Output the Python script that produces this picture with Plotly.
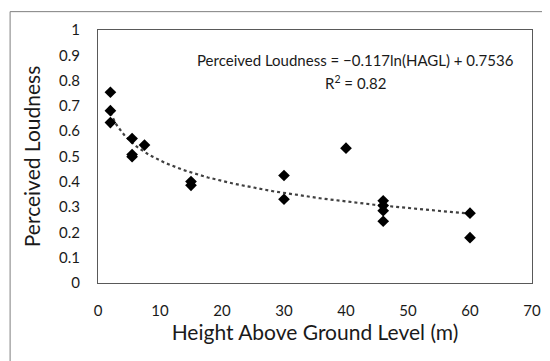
import numpy as np
import plotly.graph_objects as go

hagl = [2, 2, 2, 5.5, 5.5, 5.5, 7.5, 15, 15, 30, 30, 40, 46, 46, 46, 46, 60, 60]
loudness = [0.754, 0.681, 0.634, 0.571, 0.508, 0.499, 0.545, 0.401, 0.386,
            0.425, 0.331, 0.533, 0.325, 0.306, 0.286, 0.244, 0.276, 0.179]
coef_a = -0.117
coef_b = 0.7536
x_ticks = [0, 10, 20, 30, 40, 50, 60, 70]
y_ticks = [0, 0.1, 0.2, 0.3, 0.4, 0.5, 0.6, 0.7, 0.8, 0.9, 1]

FONT = "Lato"
TXT = "#1a1a1a"
fig = go.Figure()

xt = np.linspace(min(hagl), max(hagl), 200)
yt = coef_a * np.log(xt) + coef_b
fig.add_trace(go.Scatter(x=xt, y=yt, mode="lines",
                         line=dict(color="#404040", width=2.2, dash="dot"),
                         hoverinfo="skip", showlegend=False))
fig.add_trace(go.Scatter(x=hagl, y=loudness, mode="markers",
                         marker=dict(symbol="diamond", size=9, color="black"),
                         showlegend=False))

L, R, T, B = 89.5, 26, 20, 86
W, H = 550, 361
pw, ph = W - L - R, H - T - B

def px(x):
    return (x - L) / pw

def py(y):
    return (H - B - y) / ph

fig.add_shape(type="rect", xref="paper", yref="paper",
              x0=px(1.5), x1=px(548), y0=py(1.5), y1=py(358.5),
              line=dict(color="#7f7f7f", width=1), layer="below")

fig.add_annotation(xref="paper", yref="paper", x=px(347.5), y=py(39),
                   text="Perceived Loudness = \u22120.117ln(HAGL) + 0.7536",
                   showarrow=False, font=dict(family=FONT, size=15, color=TXT))
fig.add_annotation(xref="paper", yref="paper", x=px(347.5), y=py(61),
                   text="R<sup>2</sup> = 0.82",
                   showarrow=False, font=dict(family=FONT, size=15, color=TXT))

fig.update_layout(
    width=W, height=H,
    margin=dict(l=L, r=R, t=T, b=B),
    paper_bgcolor="white", plot_bgcolor="white",
    font=dict(family=FONT, color=TXT),
    xaxis=dict(range=[0, 70], tickvals=x_ticks, showgrid=False, zeroline=False,
               showline=True, linecolor="#595959", linewidth=1, mirror=True,
               ticks="outside", ticklen=14, tickcolor="rgba(0,0,0,0)",
               tickfont=dict(family=FONT, size=15, color=TXT),
               title=dict(text="Height Above Ground Level (m)", standoff=2,
                          font=dict(family=FONT, size=21, color=TXT))),
    yaxis=dict(range=[0, 1], tickvals=y_ticks, showgrid=False, zeroline=False,
               showline=True, linecolor="#595959", linewidth=1, mirror=True,
               ticks="outside", ticklen=14, tickcolor="rgba(0,0,0,0)",
               tickfont=dict(family=FONT, size=15, color=TXT),
               title=dict(text="Perceived Loudness", standoff=12,
                          font=dict(family=FONT, size=21, color=TXT))),
)

fig.write_html("out.html")
